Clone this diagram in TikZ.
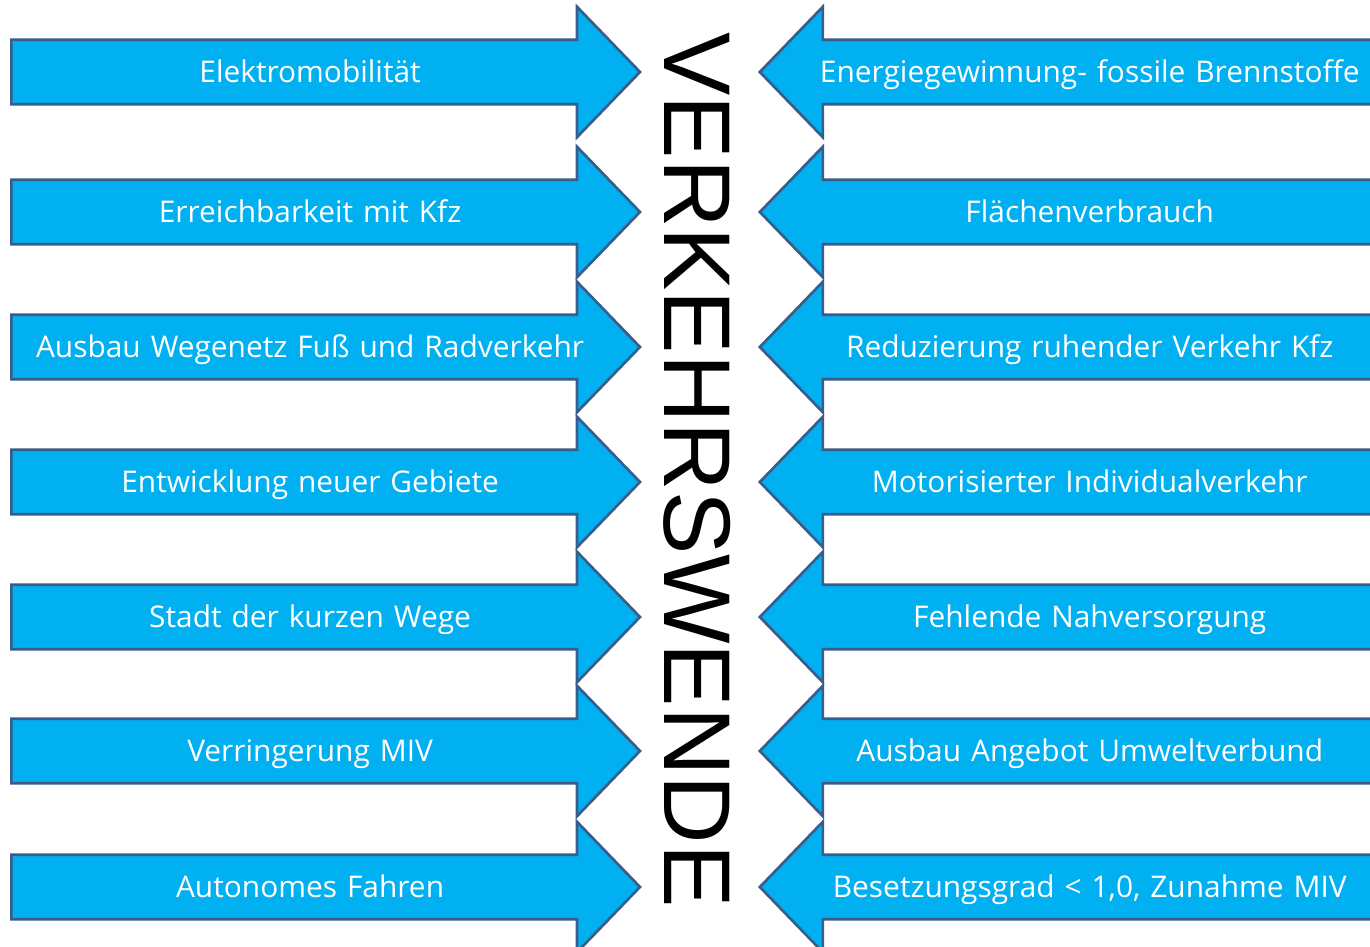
\documentclass[tikz,border=0pt]{standalone}
\usepackage{fontspec}
\setmainfont{Open Sans}
\newfontfamily\wendefont{Liberation Sans}
\usetikzlibrary{shapes.arrows}
\definecolor{arrowfill}{HTML}{00B0F0}
\definecolor{arrowline}{HTML}{385D8A}
\tikzset{
	every factor/.style={
		single arrow,
		draw=arrowline,
		line width=1.5pt,
		fill=arrowfill,
		text=white,
		font=\fontsize{17}{20}\selectfont,
		text width=11.5cm,
		align=center,
		text height=14pt,
		text depth=2pt,
		inner xsep=0.2cm,
		inner ysep=0.338cm,
		single arrow head extend=0.66cm,
		single arrow tip angle=92
	},
	factor push/.style={
		every factor,
		anchor=tail
	},
	factor pull/.style={
		every factor,
		shape border rotate=180,
		anchor=tip
	},
}

\begin{document}
\begin{tikzpicture}[x=0.02cm,y=-0.02cm]
\tikzset{wende/.style={
		rotate=-90,
		inner sep=0pt,
		font=\wendefont\fontsize{54}{54}\selectfont}}

\useasboundingbox (0,0) rectangle (1370,947);
\clip (0,0) rectangle (1370,947);

% drivers
\node[factor push] (elektromobilitaet) at (10,72) {Elektromobilität};
\node[factor push] (erreichbarkeit) at (10,212) {Erreichbarkeit mit Kfz};
\node[factor push] (wegenetz) at (10,347) {Ausbau Wegenetz Fuß und Radverkehr};
\node[factor push] (neueGebiete) at (10,482) {Entwicklung neuer Gebiete};
\node[factor push] (kurzeWege) at (10,617) {Stadt der kurzen Wege};
\node[factor push] (verringerungMIV) at (10,751) {Verringerung MIV};
\node[factor push] (autonom) at (10,887) {Autonomes Fahren};

% obstacles
\node[factor pull] (energie) at (758,72) {Energiegewinnung- fossile Brennstoffe};
\node[factor pull] (flaeche) at (758,212) {Flächenverbrauch};
\node[factor pull] (ruhenderVerkehr) at (758,347) {Reduzierung ruhender Verkehr Kfz};
\node[factor pull] (motorisiert) at (758,482) {Motorisierter Individualverkehr};
\node[factor pull] (nahversorgung) at (758,617) {Fehlende Nahversorgung};
\node[factor pull] (umweltverbund) at (758,751) {Ausbau Angebot Umweltverbund};
\node[factor pull] (besetzungsgrad) at (758,887) {Besetzungsgrad < 1,0, Zunahme MIV};

\node[wende] (verkehrswende) at (697,470) {VERKEHRSWENDE};

\end{tikzpicture}
\end{document}
